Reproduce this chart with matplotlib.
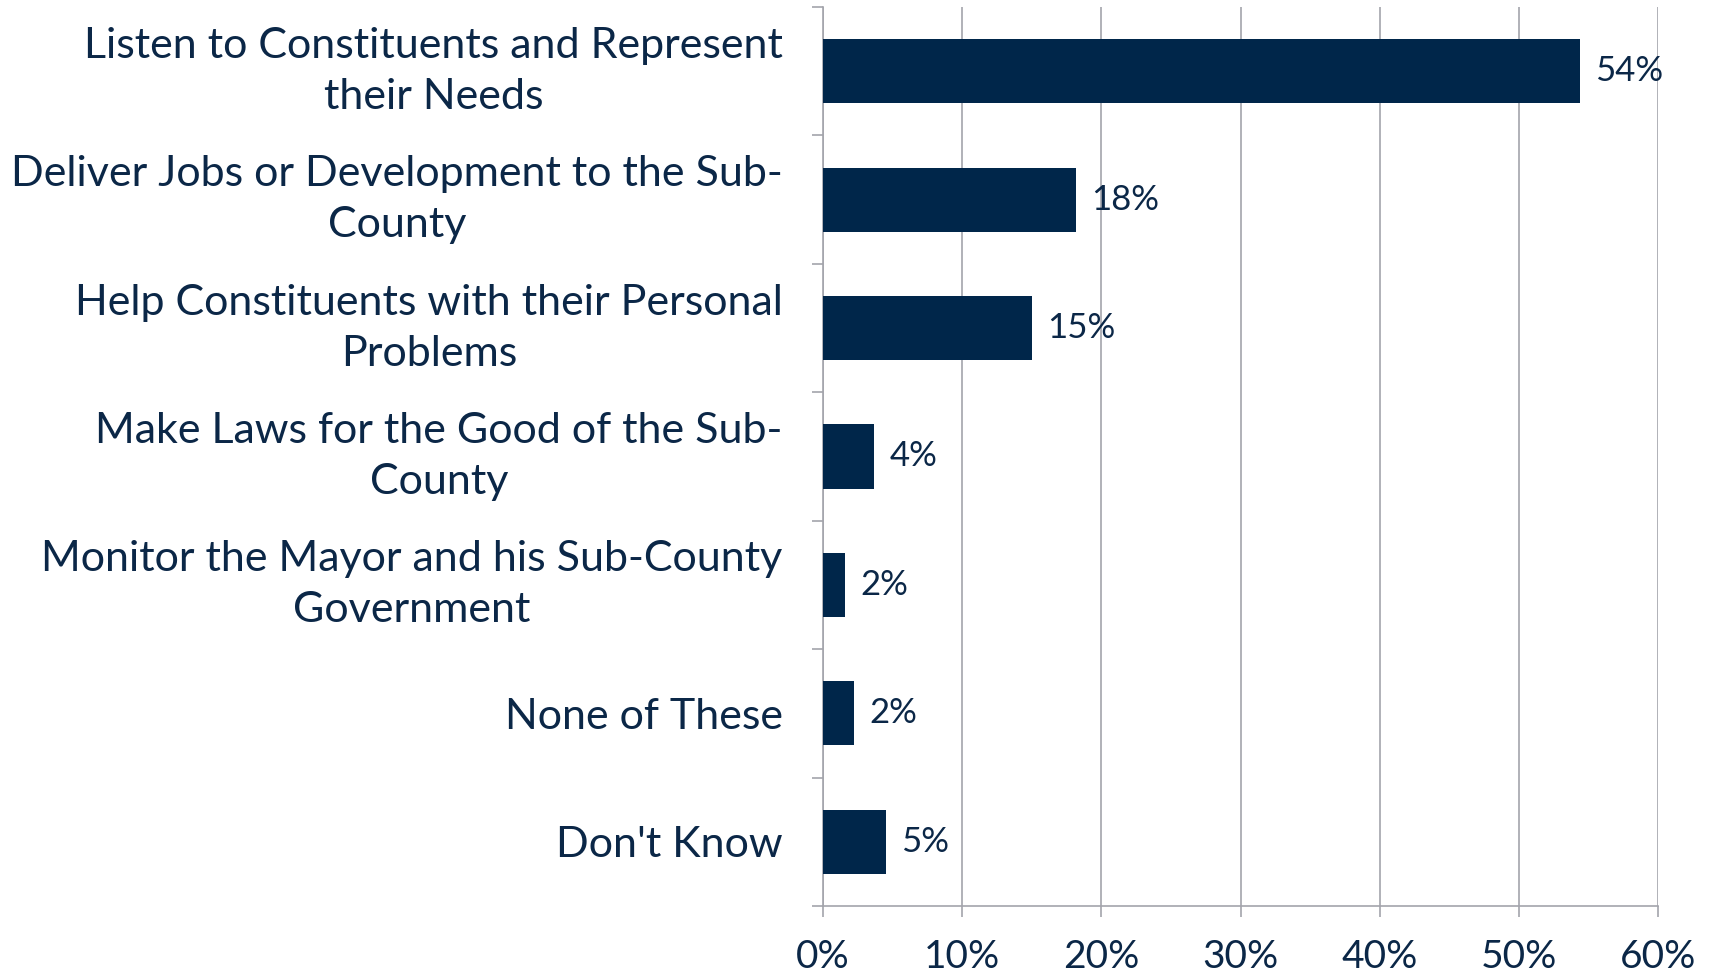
import numpy as np
import matplotlib.pyplot as plt
import matplotlib.transforms as mtransforms
from matplotlib.ticker import FixedLocator

# ===== data =====
categories = [
    "Listen to Constituents and Represent\ntheir Needs",
    "Deliver Jobs or Development to the Sub-\nCounty",
    "Help Constituents with their Personal\nProblems",
    "Make Laws for the Good of the Sub-\nCounty",
    "Monitor the Mayor and his Sub-County\nGovernment",
    "None of These",
    "Don't Know",
]
values = [54.4, 18.2, 15.0, 3.7, 1.6, 2.2, 4.5]
value_labels = ["54%", "18%", "15%", "4%", "2%", "2%", "5%"]
x_ticks = [0, 10, 20, 30, 40, 50, 60]

navy = "#00264a"
text_col = "#0b2747"
grid_col = "#a3a4ab"

plt.rcParams['font.family'] = ['Lato', 'DejaVu Sans']

fig = plt.figure(figsize=(17.09, 9.77), dpi=100)
ax = fig.add_axes([823 / 1709, 1 - 906 / 977, (1658 - 823) / 1709, (906 - 7) / 977])

y = np.arange(len(categories))
ax.barh(y, values, height=0.5, color=navy, zorder=3)

for yi, v, lab in zip(y, values, value_labels):
    ax.text(v + 1.1, yi, lab, va='center', ha='left', fontsize=25, color=text_col, zorder=4)

ax.set_xlim(0, 60)
ax.set_ylim(len(categories) - 0.5, -0.5)
ax.set_xticks(x_ticks)
ax.set_xticklabels([f"{t}%" for t in x_ticks], fontsize=28, color=text_col)
ax.set_yticks(y)
ax.set_yticklabels([])
ax.yaxis.set_minor_locator(FixedLocator(np.arange(-0.5, len(categories), 1)))

# category labels: right-aligned block, lines centred
for yi, cat in zip(y, categories):
    dy = 0 if "\n" in cat else -2.4
    tr = ax.get_yaxis_transform() + mtransforms.ScaledTranslation(-29 / 72, dy / 72, fig.dpi_scale_trans)
    ax.text(0, yi, cat, transform=tr, ha='right', va='center', multialignment='center',
            fontsize=31, color=text_col, linespacing=1.42)

ax.tick_params(axis='y', which='major', length=0)
ax.tick_params(axis='y', which='minor', length=8, width=1.2, color=grid_col)
ax.tick_params(axis='x', length=8, width=1.2, color=grid_col, pad=16)

ax.grid(axis='x', color=grid_col, linewidth=1.2, zorder=0)
for s in ['top', 'right']:
    ax.spines[s].set_visible(False)
for s in ['left', 'bottom']:
    ax.spines[s].set_color(grid_col)
    ax.spines[s].set_linewidth(1.2)

fig.savefig("out.png", dpi=100)
